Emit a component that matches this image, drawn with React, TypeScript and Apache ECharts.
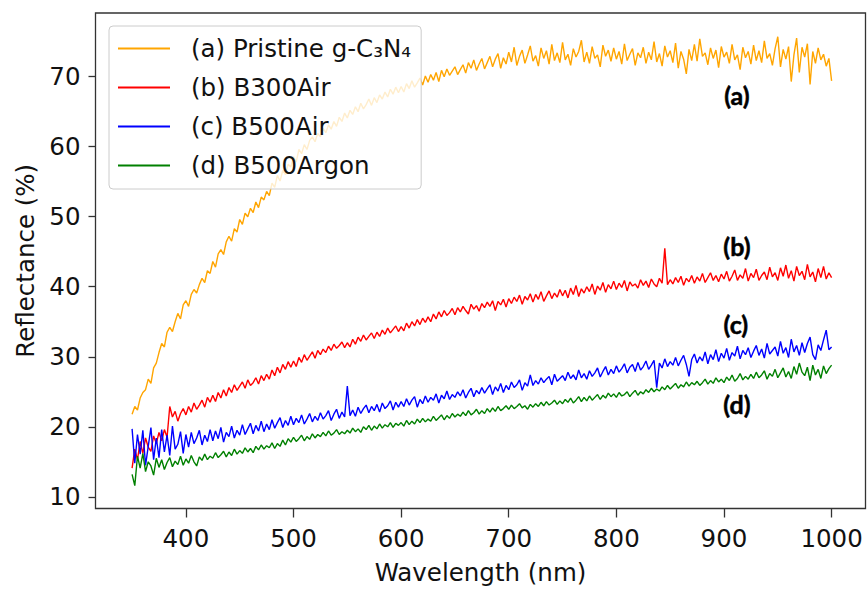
import React, { useEffect, useRef } from "react";
import * as echarts from "echarts";

// Sampling grid of the spectra (nm)
const wavelengthStart = 350;
const wavelengthStep = 2.5;

// (a) Pristine g-C3N4, 350..1000 nm every 2.5 nm (rows of 25 nm)
const pristine = [
  21.8, 22.9, 22.4, 24.1, 24.9, 25.3, 26.8, 26.2, 28.4, 29.1,
  30.6, 31.9, 31.4, 33.5, 34.2, 33.6, 35.0, 36.2, 35.4, 37.4,
  38.0, 37.2, 38.9, 39.6, 39.1, 40.3, 41.2, 40.6, 42.3, 41.9,
  43.6, 42.8, 44.7, 45.3, 44.6, 46.4, 47.2, 46.5, 48.3, 47.8,
  49.6, 48.9, 50.5, 50.0, 51.2, 50.6, 52.1, 51.3, 52.8, 52.4,
  53.6, 53.0, 54.8, 54.2, 55.9, 55.1, 56.6, 56.0, 57.5, 57.1,
  58.6, 57.8, 59.6, 59.0, 60.3, 59.6, 60.9, 61.4, 60.7, 61.9,
  61.4, 62.6, 62.0, 63.1, 62.5, 63.6, 62.9, 64.2, 63.6, 64.8,
  64.1, 65.2, 64.6, 65.7, 65.0, 66.2, 65.4, 66.0, 66.8, 65.9,
  67.0, 66.3, 67.4, 66.8, 67.8, 67.1, 68.2, 67.5, 68.5, 67.7,
  68.6, 67.8, 69.0, 68.3, 69.4, 68.5, 69.1, 69.8, 68.8, 70.1,
  69.2, 70.3, 69.5, 70.6, 69.3, 70.9, 70.0, 71.1, 70.2, 70.8,
  71.4, 70.3, 71.0, 71.7, 70.5, 72.0, 71.2, 72.4, 70.9, 71.8,
  72.6, 71.1, 72.0, 72.9, 71.4, 72.5, 73.3, 71.2, 72.7, 71.8,
  73.5, 72.1, 74.2, 71.6, 72.9, 73.8, 71.9, 73.1, 74.4, 72.2,
  73.0, 71.5, 74.1, 72.6, 73.7, 71.8, 74.6, 72.3, 73.4, 72.0,
  74.9, 72.4, 73.2, 71.6, 74.0, 72.8, 73.6, 75.2, 72.1, 73.5,
  71.9, 74.3, 72.6, 73.1, 71.4, 74.5, 72.9, 73.8, 72.2, 74.1,
  72.5, 73.6, 71.8, 74.7, 72.3, 73.2, 74.0, 71.6, 73.4, 72.7,
  74.2, 71.9, 73.5, 72.4, 75.0, 72.1, 73.3, 71.5, 74.4, 72.8,
  73.7, 72.0, 74.8, 71.2, 73.6, 72.5, 70.4, 73.9, 72.3, 74.6,
  72.2, 75.4, 72.9, 73.4, 71.7, 74.1, 72.6, 73.8, 71.3, 74.3,
  72.8, 73.5, 71.9, 74.6, 72.4, 73.1, 71.0, 74.2, 72.7, 73.6,
  71.8, 74.5, 72.3, 73.7, 72.0, 75.1, 72.6, 73.3, 71.6, 74.0,
  75.7, 71.4, 73.9, 72.5, 74.3, 69.3, 73.1, 75.5, 70.6, 74.2,
  72.8, 74.7, 68.9, 73.6, 71.9, 74.1, 72.4, 73.2, 71.5, 72.6,
  69.4,
];

// (b) B300Air
const b300Air = [
  14.1, 16.8, 15.3, 17.9, 16.2, 18.4, 17.1, 16.5, 18.7, 17.6,
  19.2, 18.0, 19.6, 18.5, 22.9, 21.4, 22.2, 20.8, 21.9, 22.6,
  21.7, 22.9, 22.1, 23.4, 22.5, 23.1, 23.8, 22.8, 24.2, 23.5,
  24.5, 23.6, 24.9, 24.1, 25.3, 24.4, 25.6, 24.9, 26.0, 25.2,
  25.8, 26.4, 25.5, 26.7, 25.9, 26.3, 27.0, 26.1, 27.3, 26.6,
  27.5, 26.8, 28.1, 27.3, 28.5, 27.7, 28.9, 28.2, 29.3, 28.5,
  29.4, 28.6, 29.9, 29.2, 30.3, 29.5, 30.1, 30.7, 29.8, 30.9,
  30.3, 31.1, 30.6, 31.5, 30.9, 31.8, 31.2, 31.6, 32.1, 31.3,
  32.0, 31.4, 32.5, 31.8, 32.8, 32.2, 33.1, 32.4, 32.9, 33.4,
  32.6, 33.5, 32.9, 33.8, 33.2, 34.1, 33.4, 33.9, 34.4, 33.6,
  34.3, 33.7, 34.8, 34.1, 35.0, 34.4, 35.3, 34.6, 35.5, 34.9,
  35.7, 35.0, 36.1, 35.4, 36.4, 35.7, 36.6, 35.9, 36.3, 36.9,
  36.0, 37.0, 36.4, 37.2, 36.6, 36.1, 37.5, 36.8, 37.3, 36.5,
  37.6, 37.0, 37.8, 37.2, 38.0, 36.6, 37.9, 37.4, 38.2, 37.1,
  38.3, 37.6, 38.5, 37.9, 38.8, 37.5, 38.6, 38.1, 39.0, 37.8,
  38.9, 38.2, 39.3, 37.9, 38.7, 39.4, 38.3, 39.1, 38.5, 39.6,
  38.7, 39.5, 38.4, 39.8, 38.9, 40.2, 38.6, 39.7, 39.1, 40.0,
  39.3, 40.4, 38.9, 40.1, 39.5, 40.6, 39.2, 40.3, 39.7, 40.8,
  39.6, 40.5, 39.9, 40.9, 39.4, 40.7, 40.1, 40.4, 39.8, 41.0,
  40.2, 40.8, 39.9, 41.1, 40.4, 40.0, 41.2, 40.5, 45.5, 40.3,
  41.0, 40.4, 41.3, 40.6, 41.5, 40.2, 41.2, 40.7, 41.6, 40.5,
  41.4, 40.8, 41.9, 40.6, 41.3, 42.0, 40.9, 41.6, 40.7, 41.8,
  41.1, 42.2, 40.8, 41.5, 42.4, 40.9, 41.7, 41.2, 42.6, 40.8,
  41.9, 41.3, 42.5, 40.9, 41.6, 42.1, 41.0, 42.8, 41.4, 42.0,
  40.9, 42.7, 41.5, 43.1, 41.2, 42.3, 40.8, 42.9, 41.6, 42.2,
  41.0, 43.2, 41.4, 42.1, 40.7, 42.6, 41.3, 42.9, 41.1, 42.0,
  41.3,
];

// (c) B500Air
const b500Air = [
  19.7, 14.8, 18.9, 16.1, 19.5, 14.5, 17.2, 19.9, 15.3, 18.4,
  15.6, 19.6, 16.4, 18.8, 15.9, 20.1, 16.8, 17.5, 19.3, 16.2,
  18.9, 17.1, 19.2, 17.6, 18.4, 19.5, 17.4, 18.8, 17.9, 19.6,
  18.0, 19.4, 18.3, 19.9, 17.8, 19.2, 18.6, 20.1, 18.4, 19.5,
  18.8, 20.3, 18.9, 19.7, 20.5, 19.0, 20.2, 19.4, 20.8, 19.3,
  20.4, 19.6, 21.0, 19.8, 20.6, 21.3, 19.9, 20.9, 20.2, 21.5,
  20.3, 21.2, 20.6, 21.7, 20.4, 21.1, 21.9, 20.7, 21.5, 20.9,
  22.0, 21.1, 21.6, 22.3, 20.9, 21.8, 22.5, 21.2, 22.1, 21.4,
  25.8, 21.6, 22.4, 21.5, 22.8, 21.9, 22.6, 23.1, 22.0, 22.9,
  22.3, 23.2, 22.1, 23.4, 22.6, 23.0, 23.7, 22.4, 23.5, 22.8,
  23.6, 22.9, 24.0, 23.1, 23.8, 24.3, 22.8, 23.9, 23.3, 24.4,
  23.5, 24.2, 23.8, 24.7, 23.4, 24.5, 24.0, 25.1, 23.9, 24.6,
  24.2, 25.0, 24.4, 25.3, 24.1, 24.9, 25.5, 24.3, 25.2, 24.7,
  25.6, 24.8, 25.4, 26.0, 24.6, 25.7, 25.1, 26.2, 24.9, 25.9,
  25.3, 26.4, 25.6, 26.0, 26.7, 25.2, 26.3, 25.8, 27.4, 25.9,
  26.6, 26.1, 27.0, 26.3, 26.8, 27.2, 26.0, 27.5, 26.5, 26.9,
  27.3, 26.6, 27.8, 26.9, 27.4, 26.7, 28.1, 27.0, 27.6, 26.8,
  28.0, 27.2, 27.7, 28.4, 27.1, 27.9, 28.6, 27.4, 28.2, 27.6,
  28.7, 27.8, 28.3, 29.0, 27.7, 28.5, 28.9, 27.9, 29.2, 28.1,
  28.6, 29.4, 28.2, 28.8, 29.5, 25.6, 29.1, 28.4, 29.7, 28.6,
  29.3, 28.8, 29.9, 28.7, 29.5, 30.2, 28.9, 27.2, 29.6, 30.4,
  29.1, 30.0, 29.4, 30.7, 29.0, 30.3, 29.6, 31.0, 29.3, 30.5,
  29.8, 31.2, 29.5, 30.6, 30.1, 31.5, 29.7, 30.9, 30.3, 31.3,
  29.9, 30.8, 31.6, 30.2, 31.1, 29.8, 31.9, 30.4, 30.9, 31.4,
  30.1, 32.2, 30.5, 31.3, 29.9, 32.5, 30.7, 31.6, 30.2, 32.0,
  30.6, 31.9, 32.8, 30.3, 29.6, 31.7, 30.9, 32.4, 33.8, 31.0,
  31.4,
];

// (d) B500Argon
const b500Argon = [
  13.2, 11.6, 15.8, 14.1, 16.2, 13.6, 15.0, 14.4, 13.1, 15.5,
  14.2, 15.3, 13.9, 14.9, 15.6, 14.3, 15.1, 14.6, 15.8, 14.5,
  15.4, 14.8, 15.9, 15.0, 14.4, 15.7, 15.2, 16.1, 15.3, 15.8,
  15.5, 16.3, 15.6, 16.0, 16.5, 15.7, 16.4, 15.9, 16.8, 16.1,
  16.6, 16.2, 17.0, 16.4, 16.9, 16.3, 17.2, 16.7, 17.4, 16.8,
  17.3, 17.0, 17.7, 16.9, 17.6, 17.2, 18.1, 17.4, 18.3, 17.8,
  18.5, 17.9, 18.3, 18.8, 18.0, 18.6, 18.2, 19.0, 18.4, 18.9,
  18.6, 19.2, 18.7, 19.4, 18.8, 19.1, 19.6, 18.9, 19.3, 19.0,
  19.5, 19.1, 19.8, 19.3, 19.7, 19.2, 20.0, 19.6, 20.2, 19.5,
  20.1, 19.7, 20.4, 19.8, 20.3, 20.0, 20.6, 19.9, 20.5, 20.2,
  20.6, 20.1, 20.9, 20.3, 20.8, 20.4, 21.1, 20.6, 21.2, 20.7,
  21.1, 20.8, 21.5, 20.9, 21.3, 21.7, 21.0, 21.6, 21.2, 21.9,
  21.4, 21.8, 21.5, 22.1, 21.6, 22.3, 21.7, 22.0, 22.5, 21.8,
  22.3, 21.9, 22.6, 22.1, 22.7, 22.2, 22.9, 22.3, 22.6, 23.0,
  22.5, 23.1, 22.6, 22.9, 23.3, 22.7, 23.0, 22.5, 23.2, 22.8,
  23.3, 22.9, 23.5, 23.0, 23.6, 23.1, 23.4, 23.8, 23.2, 23.7,
  23.3, 23.9, 23.5, 24.1, 23.4, 23.8, 24.3, 23.6, 24.2, 23.7,
  24.4, 23.8, 24.2, 24.6, 23.9, 24.5, 24.1, 24.8, 24.3, 24.7,
  24.2, 24.9, 24.4, 24.6, 25.0, 24.3, 24.8, 25.2, 24.5, 25.0,
  24.7, 25.3, 24.9, 25.5, 25.0, 25.4, 25.1, 25.7, 25.3, 25.9,
  25.4, 25.8, 26.2, 25.5, 26.0, 25.7, 26.4, 25.8, 26.3, 26.0,
  26.5, 25.9, 26.3, 26.8, 26.1, 26.6, 26.2, 27.0, 26.4, 26.8,
  26.3, 27.1, 26.6, 27.4, 26.5, 26.9, 27.6, 26.7, 27.2, 26.8,
  27.5, 26.9, 27.8, 27.0, 27.4, 28.0, 26.8, 27.6, 27.2, 28.2,
  27.0, 27.7, 28.4, 27.1, 27.9, 26.9, 28.6, 27.5, 29.1, 27.8,
  27.3, 28.5, 26.6, 28.8, 27.4, 28.2, 26.9, 28.7, 27.6, 28.3,
  28.8,
];

const seriesNames = [
  "(a) Pristine g-C₃N₄",
  "(b) B300Air",
  "(c) B500Air",
  "(d) B500Argon",
];
const seriesColors = ["#FFA500", "#FF0000", "#0000FF", "#008000"];

const xTicks = [400, 500, 600, 700, 800, 900, 1000];
const yTicks = [10, 20, 30, 40, 50, 60, 70];

const annotationTexts = ["(a)", "(b)", "(c)", "(d)"];
const annotationX = [912, 912, 911, 912];
const annotationY = [67.4, 45.8, 34.7, 23.2];

export default function App() {
  const ref = useRef<HTMLDivElement>(null);

  useEffect(() => {
    if (!ref.current) return;
    const chart = echarts.init(ref.current, null, { renderer: "svg" });
    const font = "DejaVu Sans";
    const fs = 24.5;
    const values = [pristine, b300Air, b500Air, b500Argon];

    const lineSeries = values.map((v, i) => ({
      type: "line",
      name: seriesNames[i],
      data: v.map((y, j) => [wavelengthStart + j * wavelengthStep, y]),
      showSymbol: false,
      symbol: "none",
      silent: true,
      lineStyle: { color: seriesColors[i], width: 1.4 },
      itemStyle: { color: seriesColors[i] },
      z: 2,
    }));

    const annotationSeries = {
      type: "scatter",
      name: "annotations",
      silent: true,
      symbolSize: 1,
      itemStyle: { color: "rgba(0,0,0,0)" },
      data: annotationTexts.map((t, i) => ({
        name: t,
        value: [annotationX[i], annotationY[i]],
      })),
      label: {
        show: true,
        position: "inside",
        formatter: (p: any) => p.name,
        fontFamily: "Lato",
        fontWeight: "bold",
        fontSize: 25,
        color: "#000",
        opacity: 1,
        textBorderColor: "#000",
        textBorderWidth: 0.5,
      },
      z: 5,
    };

    chart.setOption({
      animation: false,
      backgroundColor: "#fff",
      grid: {
        left: 95.5,
        right: 2.5,
        top: 13,
        bottom: 76.5,
        show: true,
        borderColor: "#333",
        borderWidth: 1.3,
        backgroundColor: "transparent",
        containLabel: false,
      },
      legend: {
        data: seriesNames,
        orient: "vertical",
        left: 109,
        top: 26,
        padding: [10, 10, 11, 9],
        itemGap: 14,
        itemWidth: 52,
        itemHeight: 2,
        icon: "rect",
        selectedMode: false,
        backgroundColor: "rgba(255,255,255,0.8)",
        borderColor: "#cccccc",
        borderWidth: 1,
        borderRadius: 4,
        textStyle: {
          fontFamily: font,
          fontSize: fs,
          color: "#111",
          lineHeight: 24,
          padding: [0, 0, 0, 16],
        },
        z: 10,
      },
      xAxis: {
        type: "value",
        min: 316,
        max: 1031.5,
        name: "Wavelength (nm)",
        nameLocation: "middle",
        nameGap: 51.5,
        nameTextStyle: { fontFamily: font, fontSize: fs, color: "#111" },
        axisLine: { show: false },
        axisTick: {
          show: true,
          customValues: xTicks,
          length: 9,
          lineStyle: { color: "#333", width: 1.3 },
        },
        axisLabel: {
          customValues: xTicks,
          formatter: (v: number) => String(v),
          margin: 17,
          fontFamily: font,
          fontSize: fs,
          color: "#111",
        },
        splitLine: { show: false },
      },
      yAxis: {
        type: "value",
        min: 8.33,
        max: 79.09,
        name: "Reflectance (%)",
        nameLocation: "middle",
        nameGap: 58,
        nameTextStyle: { fontFamily: font, fontSize: fs, color: "#111" },
        axisLine: { show: false },
        axisTick: {
          show: true,
          customValues: yTicks,
          length: 7,
          lineStyle: { color: "#333", width: 1.3 },
        },
        axisLabel: {
          customValues: yTicks,
          formatter: (v: number) => String(v),
          margin: 15,
          fontFamily: font,
          fontSize: fs,
          color: "#111",
        },
        splitLine: { show: false },
      },
      series: [...lineSeries, annotationSeries],
    });

    return () => {
      chart.dispose();
    };
  }, []);

  return (
    <div
      ref={ref}
      style={{ position: "fixed", left: 0, top: 0, width: 868, height: 590 }}
    />
  );
}
